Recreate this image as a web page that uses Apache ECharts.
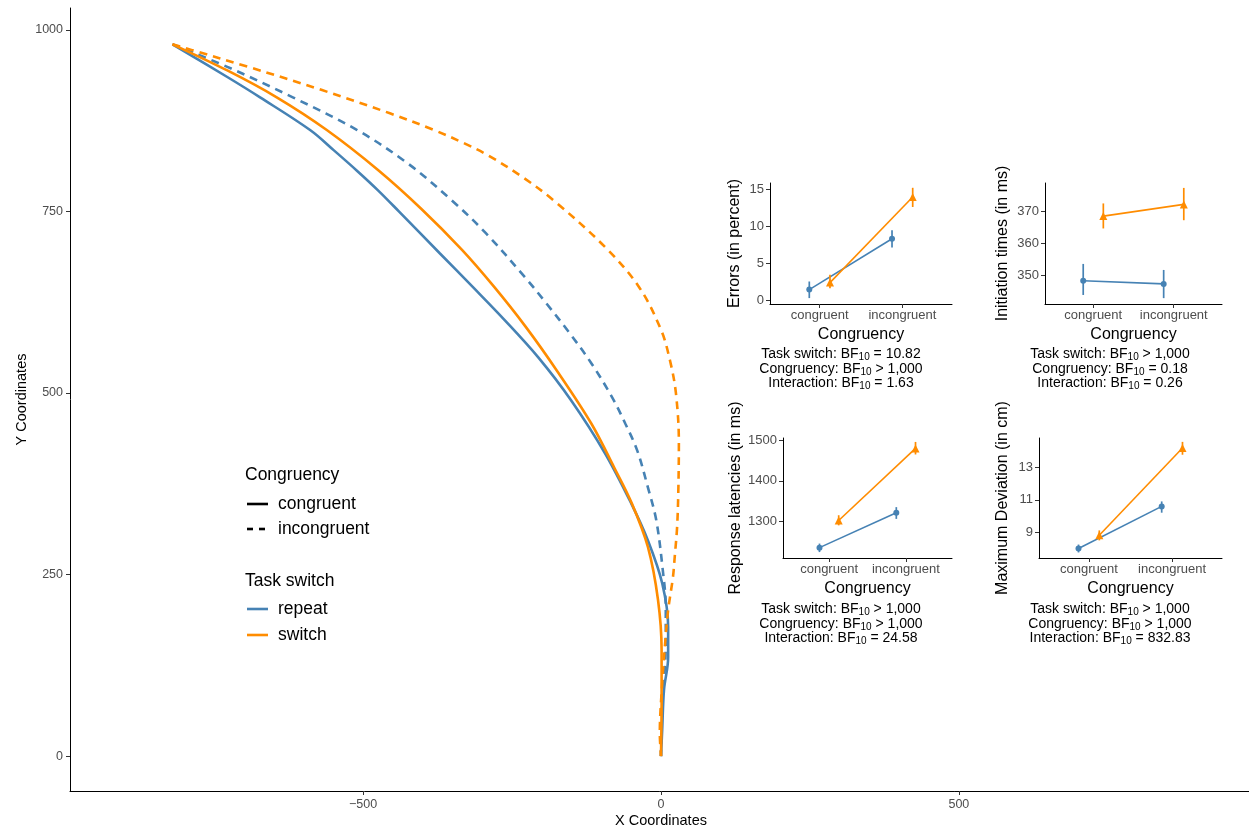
<!DOCTYPE html>
<html><head><meta charset="utf-8">
<script src="https://cdn.jsdelivr.net/npm/echarts@6/dist/echarts.min.js"></script>
<style>html,body{margin:0;padding:0;background:#fff}#c{width:1249px;height:829px}</style>
</head><body><div id="c"></div>
<script>
const FONT = '"Liberation Sans", Arial, Helvetica, sans-serif';
const BLUE = '#4682B4', ORANGE = '#FF8C00';

// ---- Main panel: mean mouse trajectories [x, y] ----
const repeatCongruent = [[-820,980],[-728,935],[-673,907],[-589,862],[-549,834],[-509,805],[-475,779],[-440,750],[-371,692],[-316,646],[-262,600],[-206,549],[-151,490],[-94,417],[-50,348],[-22,297],[2,238],[12,178],[12,136],[5,91],[2,36],[0,0]];
const repeatIncongruent = [[-820,980],[-728,949],[-618,907],[-510,862],[-425,816],[-351,765],[-294,720],[-228,659],[-193,624],[-153,582],[-117,541],[-82,494],[-60,458],[-40,421],[-22,370],[-8,325],[3,256],[8,205],[8,164],[7,128],[2,77],[0,0]];
const switchCongruent = [[-820,980],[-728,944],[-645,907],[-561,862],[-475,807],[-403,754],[-334,697],[-280,646],[-227,591],[-175,531],[-117,458],[-79,398],[-49,348],[-22,288],[-5,215],[1,146],[1,77],[0,0]];
const switchIncongruent = [[-820,980],[-787,972],[-693,949],[-569,917],[-455,885],[-381,862],[-331,844],[-290,827],[-232,797],[-180,765],[-94,701],[-37,646],[0,587],[15,545],[25,500],[30,431],[29,362],[27,315],[23,274],[20,246],[12,201],[7,156],[2,100],[-2,32],[0,0]];
const mainXTicks = [-500, 0, 500];
const mainYTicks = [0, 250, 500, 750, 1000];

// ---- Inset panels ----
const categories = ['congruent', 'incongruent'];
const taskSwitchLevels = ['repeat', 'switch'];

const errorsRepeat = [1.4, 8.3], errorsRepeatLo = [0.25, 7.1], errorsRepeatHi = [2.5, 9.45];
const errorsSwitch = [2.35, 13.95], errorsSwitchLo = [1.6, 12.6], errorsSwitchHi = [3.4, 15.2];
const errorsTicks = [0, 5, 10, 15];

const initRepeat = [348.2, 347.2], initRepeatLo = [343.7, 342.7], initRepeatHi = [353.5, 351.6];
const initSwitch = [368.6, 372.3], initSwitchLo = [364.7, 367.3], initSwitchHi = [372.6, 377.5];
const initTicks = [350, 360, 370];

const rtRepeat = [1235, 1321], rtRepeatLo = [1224, 1306], rtRepeatHi = [1245, 1335];
const rtSwitch = [1302, 1480], rtSwitchLo = [1290, 1465], rtSwitchHi = [1315, 1496];
const rtTicks = [1300, 1400, 1500];

const mdRepeat = [7.97, 10.59], mdRepeatLo = [7.73, 10.2], mdRepeatHi = [8.22, 10.9];
const mdSwitch = [8.8, 14.22], mdSwitchLo = [8.48, 13.8], mdSwitchHi = [9.1, 14.6];
const mdTicks = [9, 11, 13];

const panelTitles = ['Errors (in percent)', 'Initiation times (in ms)', 'Response latencies (in ms)', 'Maximum Deviation (in cm)'];
const bfErrors = [['Task switch', '=', '10.82'], ['Congruency', '>', '1,000'], ['Interaction', '=', '1.63']];
const bfInit = [['Task switch', '>', '1,000'], ['Congruency', '=', '0.18'], ['Interaction', '=', '0.26']];
const bfRT = [['Task switch', '>', '1,000'], ['Congruency', '>', '1,000'], ['Interaction', '=', '24.58']];
const bfMD = [['Task switch', '>', '1,000'], ['Congruency', '>', '1,000'], ['Interaction', '=', '832.83']];

// ---- Build option ----
const panels = [
  {grid:{left:770, top:183, width:182, height:121}, ymin:-0.55, ymax:15.85, ticks:errorsTicks, title:panelTitles[0], nameGap:27,
   rep:[errorsRepeat, errorsRepeatLo, errorsRepeatHi], sw:[errorsSwitch, errorsSwitchLo, errorsSwitchHi], bf:bfErrors, bfX:841, bfY:354.5},
  {grid:{left:1045, top:183, width:177, height:121}, ymin:340.85, ymax:379.05, ticks:initTicks, title:panelTitles[1], nameGap:34,
   rep:[initRepeat, initRepeatLo, initRepeatHi], sw:[initSwitch, initSwitchLo, initSwitchHi], bf:bfInit, bfX:1110, bfY:354.5},
  {grid:{left:783, top:438, width:169, height:120}, ymin:1209.4, ymax:1505.7, ticks:rtTicks, title:panelTitles[2], nameGap:39,
   rep:[rtRepeat, rtRepeatLo, rtRepeatHi], sw:[rtSwitch, rtSwitchLo, rtSwitchHi], bf:bfRT, bfX:841, bfY:609.5},
  {grid:{left:1039, top:438, width:183, height:120}, ymin:7.385, ymax:14.84, ticks:mdTicks, title:panelTitles[3], nameGap:28,
   rep:[mdRepeat, mdRepeatLo, mdRepeatHi], sw:[mdSwitch, mdSwitchLo, mdSwitchHi], bf:bfMD, bfX:1110, bfY:609.5}
];

const minus = v => v < 0 ? '\u2212' + Math.abs(v) : String(v);
const plain = v => String(v);
const axisLineStyle = {color:'#000', width:1};

const grids = [{left:70, top:8, width:1182, height:783, outerBoundsMode:'none'}];
const xAxes = [{
  type:'value', gridIndex:0, min:-992, max:992,
  axisLine:{show:true, onZero:false, lineStyle:axisLineStyle},
  axisTick:{show:true, length:4, customValues:mainXTicks, lineStyle:{color:'#333'}},
  axisLabel:{customValues:mainXTicks, formatter:minus, color:'#4D4D4D', fontSize:12.5, fontFamily:FONT, margin:7},
  splitLine:{show:false},
  name:'X Coordinates', nameLocation:'middle', nameGap:22, nameMoveOverlap:false,
  nameTextStyle:{color:'#000', fontSize:14.5, fontFamily:FONT}
}];
const yAxes = [{
  type:'value', gridIndex:0, min:-48, max:1030,
  axisLine:{show:true, onZero:false, lineStyle:axisLineStyle},
  axisTick:{show:true, length:4, customValues:mainYTicks, lineStyle:{color:'#333'}},
  axisLabel:{customValues:mainYTicks, formatter:plain, color:'#4D4D4D', fontSize:12.5, fontFamily:FONT, margin:7},
  splitLine:{show:false},
  name:'Y Coordinates', nameLocation:'middle', nameGap:41, nameRotate:90, nameMoveOverlap:false,
  nameTextStyle:{color:'#000', fontSize:14.5, fontFamily:FONT}
}];

const series = [];
function traj(data, color, dashed) {
  series.push({type:'line', xAxisIndex:0, yAxisIndex:0, data:data, smooth:0.35, showSymbol:false, silent:true,
    lineStyle:{color:color, width:2.6, type: dashed ? [8,6] : 'solid', cap:'butt'}, itemStyle:{color:color}});
}
traj(repeatCongruent, BLUE, false);
traj(repeatIncongruent, BLUE, true);
traj(switchCongruent, ORANGE, false);
traj(switchIncongruent, ORANGE, true);

const dodge = 0.125;
const graphics = [];

panels.forEach((p, k) => {
  const gi = k + 1;
  grids.push(Object.assign({outerBoundsMode:'none'}, p.grid));
  xAxes.push({
    type:'value', gridIndex:gi, min:0.4, max:2.6,
    axisLine:{show:true, onZero:false, lineStyle:axisLineStyle},
    axisTick:{show:true, length:4, customValues:[1,2], lineStyle:{color:'#333'}},
    axisLabel:{customValues:[1,2], formatter: v => categories[Math.round(v) - 1], color:'#4D4D4D', fontSize:13, fontFamily:FONT, margin:5},
    splitLine:{show:false},
    name:'Congruency', nameLocation:'middle', nameGap:23, nameMoveOverlap:false,
    nameTextStyle:{color:'#000', fontSize:16, fontFamily:FONT}
  });
  yAxes.push({
    type:'value', gridIndex:gi, min:p.ymin, max:p.ymax,
    axisLine:{show:true, onZero:false, lineStyle:axisLineStyle},
    axisTick:{show:true, length:4, customValues:p.ticks, lineStyle:{color:'#333'}},
    axisLabel:{customValues:p.ticks, formatter:plain, color:'#4D4D4D', fontSize:13, fontFamily:FONT, margin:6},
    splitLine:{show:false},
    name:p.title, nameLocation:'middle', nameGap:p.nameGap, nameRotate:90, nameMoveOverlap:false,
    nameTextStyle:{color:'#000', fontSize:16, fontFamily:FONT}
  });
  [[p.rep, BLUE, 'circle', 6, -dodge], [p.sw, ORANGE, 'triangle', 8, dodge]].forEach(([vals, color, sym, size, off]) => {
    const [mean, lo, hi] = vals;
    series.push({type:'line', xAxisIndex:gi, yAxisIndex:gi, symbol:sym, symbolSize:size, showSymbol:true, silent:true,
      data: categories.map((c, i) => [i + 1 + off, mean[i]]),
      lineStyle:{color:color, width:1.6}, itemStyle:{color:color}, z:3});
    series.push({type:'custom', xAxisIndex:gi, yAxisIndex:gi, coordinateSystem:'cartesian2d', silent:true, z:4,
      data: categories.map((c, i) => [i + 1 + off, lo[i], hi[i]]),
      encode:{x:0, y:[1,2]},
      renderItem:(params, api) => {
        const a = api.coord([api.value(0), api.value(1)]);
        const b = api.coord([api.value(0), api.value(2)]);
        return {type:'line', shape:{x1:a[0], y1:a[1], x2:b[0], y2:b[1]}, style:{stroke:color, lineWidth:1.7}};
      }});
  });
  p.bf.forEach((row, j) => {
    graphics.push({type:'text', z:10, style:{
      text: row[0] + ': BF{sub|10} ' + row[1] + ' ' + row[2],
      x:p.bfX, y:p.bfY + j * 14.5, align:'center', verticalAlign:'middle',
      fill:'#000', fontSize:14, fontFamily:FONT,
      rich:{sub:{fontSize:10, fontFamily:FONT, fill:'#000', padding:[6,0,0,0]}}
    }});
  });
});

// ---- Legend (drawn as graphic) ----
const legendTitles = ['Congruency', 'Task switch'];
const lt = (t, x, y, size) => ({type:'text', style:{text:t, x:x, y:y, fill:'#000', fontSize:size, fontFamily:FONT, verticalAlign:'middle'}});
const lk = (y, color, dash) => ({type:'line', shape:{x1:247, y1:y, x2:268, y2:y}, style:{stroke:color, lineWidth:2.6, lineDash:dash || null}});
graphics.push(lt(legendTitles[0], 245, 475, 17.5));
graphics.push(lk(504, '#000'));
graphics.push(lt(categories[0], 278, 504, 17.5));
graphics.push(lk(529, '#000', [6,6]));
graphics.push(lt(categories[1], 278, 529, 17.5));
graphics.push(lt(legendTitles[1], 245, 581, 17.5));
graphics.push(lk(609, BLUE));
graphics.push(lt(taskSwitchLevels[0], 278, 609, 17.5));
graphics.push(lk(635, ORANGE));
graphics.push(lt(taskSwitchLevels[1], 278, 635, 17.5));

const chart = echarts.init(document.getElementById('c'), null, {renderer:'canvas'});
chart.setOption({
  backgroundColor:'#fff',
  animation:false,
  grid:grids, xAxis:xAxes, yAxis:yAxes, series:series, graphic:graphics
});
</script></body></html>
